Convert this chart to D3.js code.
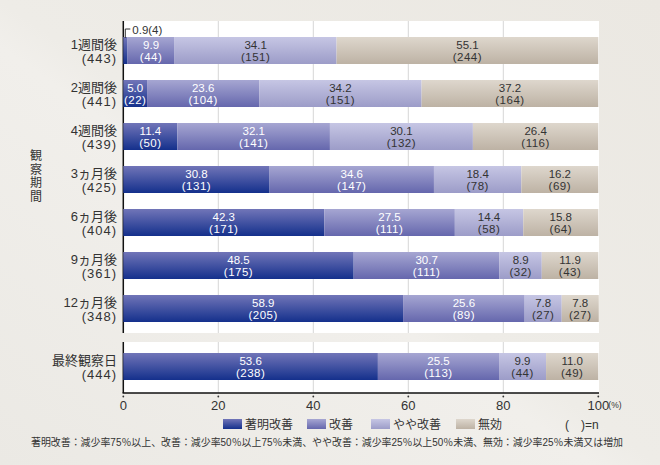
<!DOCTYPE html>
<html><head><meta charset="utf-8">
<script src="https://cdn.jsdelivr.net/npm/d3@7"></script>
<style>
html,body{margin:0;padding:0;background:#eeece7;}
svg{display:block;font-family:"Liberation Sans","Noto Sans CJK JP",sans-serif;}
</style></head>
<body><svg id="c" width="660" height="465"></svg>
<script>
const categories = ["1週間後","2週間後","4週間後","3ヵ月後","6ヵ月後","9ヵ月後","12ヵ月後","最終観察日"];
const totals = [443,441,439,425,404,361,348,444];
const groups = [0,0,0,0,0,0,0,1];
const seriesNames = ["著明改善","改善","やや改善","無効"];
const pctMarked = [0.9,5.0,11.4,30.8,42.3,48.5,58.9,53.6];
const nMarked   = [4,22,50,131,171,175,205,238];
const pctImproved = [9.9,23.6,32.1,34.6,27.5,30.7,25.6,25.5];
const nImproved   = [44,104,141,147,111,111,89,113];
const pctSlight = [34.1,34.2,30.1,18.4,14.4,8.9,7.8,9.9];
const nSlight   = [151,151,132,78,58,32,27,44];
const pctNone = [55.1,37.2,26.4,16.2,15.8,11.9,7.8,11.0];
const nNone   = [244,164,116,69,64,43,27,49];
const xTicks = [0,20,40,60,80,100];
const axisTitle = "観察期間";
const footnote = "著明改善：減少率75％以上、改善：減少率50％以上75％未満、やや改善：減少率25％以上50％未満、無効：減少率25％未満又は増加";

const pcts = [pctMarked,pctImproved,pctSlight,pctNone];
const ns = [nMarked,nImproved,nSlight,nNone];
const grads = [["#7175b8","#14308c"],["#a6a6d2","#6567ad"],["#c6c6e4","#9c9cc8"],["#ded7cd","#bdb2a4"]];
const textCol = ["#fff","#fff","#333","#333"];

const svg = d3.select("#c");
const defs = svg.append("defs");
const bg = defs.append("linearGradient").attr("id","bg").attr("x1","0").attr("y1","1").attr("x2","1").attr("y2","0");
bg.append("stop").attr("offset","0").attr("stop-color","#ebe9e4");
bg.append("stop").attr("offset","0.45").attr("stop-color","#f1efeb");
bg.append("stop").attr("offset","0.5").attr("stop-color","#eeece7");
bg.append("stop").attr("offset","1").attr("stop-color","#ebe8e2");
grads.forEach((g,i)=>{
  const lg = defs.append("linearGradient").attr("id","g"+i).attr("x1",0).attr("y1",0).attr("x2",0).attr("y2",1);
  lg.append("stop").attr("offset","0").attr("stop-color",g[0]);
  lg.append("stop").attr("offset","1").attr("stop-color",g[1]);
});
svg.append("rect").attr("width",660).attr("height",465).attr("fill","url(#bg)");

const x = d3.scaleLinear().domain([0,100]).range([123.3,598.3]);
const step = 43, gap = 15;
const yb = d3.scaleBand().domain(categories).range([29,29+8*step]).paddingInner(16/43).paddingOuter(8/43);
const y = (c,i) => yb(c) + groups[i]*gap;
const bw = yb.bandwidth();

const plotTop = 21, plotBottom = 393, plotRight = 599;
const sepTop = y(categories[6],6) + bw + 11, sepBot = y(categories[7],7) - 11;

const panels = [[plotTop, sepTop],[sepBot, plotBottom]];
panels.forEach(p=>{
  svg.append("rect").attr("x",x(0)).attr("y",p[0]).attr("width",plotRight-x(0)).attr("height",p[1]-p[0]).attr("fill","#fff");
  svg.append("g").selectAll("line").data(xTicks.slice(1,-1)).join("line")
    .attr("x1",d=>x(d)).attr("x2",d=>x(d)).attr("y1",p[0]).attr("y2",p[1])
    .attr("stroke","#d6d6d6").attr("stroke-width",1);
  svg.append("line").attr("x1",x(0)).attr("x2",x(0)).attr("y1",p[0]).attr("y2",p[1]).attr("stroke","#111").attr("stroke-width",1.5);
});
svg.append("line").attr("x1",x(0)-0.75).attr("x2",plotRight).attr("y1",plotBottom).attr("y2",plotBottom).attr("stroke","#111").attr("stroke-width",1.5);

categories.forEach((c,i)=>{
  let cum = 0;
  const yy = y(c,i);
  pcts.forEach((arr,s)=>{
    const v = arr[i];
    const x0 = x(cum), x1 = x(cum+v);
    svg.append("rect").attr("x",x0).attr("y",yy).attr("width",x1-x0).attr("height",bw).attr("fill","url(#g"+s+")");
    const cx = (x0+x1)/2;
    if (v >= 3) {
      const t = svg.append("text").attr("text-anchor","middle").attr("font-size",11.5).attr("fill",textCol[s]);
      t.append("tspan").attr("x",cx).attr("y",yy+bw/2-2).text(v.toFixed(1));
      t.append("tspan").attr("x",cx).attr("y",yy+bw/2+10.5).attr("letter-spacing",0.5).text("(" + ns[s][i] + ")");
    } else {
      svg.append("path").attr("d",`M${x0+2},${yy+1}V${yy-8}H${x0+7}`).attr("fill","none").attr("stroke","#333").attr("stroke-width",1);
      svg.append("text").attr("x",x0+9).attr("y",yy-3.5).attr("font-size",11.5).attr("fill","#333").text(v.toFixed(1)+"(" + ns[s][i] + ")");
    }
    cum += v;
  });
  const lt = svg.append("text").attr("text-anchor","end").attr("font-size",13).attr("fill","#333");
  lt.append("tspan").attr("x",117).attr("y",yy+bw/2-2).text(c);
  lt.append("tspan").attr("x",117).attr("y",yy+bw/2+12).attr("letter-spacing",1).text("(" + totals[i] + ")");
});

const ax = svg.append("g");
ax.selectAll("circle").data(xTicks).join("circle").attr("cx",d=>x(d)).attr("cy",plotBottom+3.5).attr("r",0.9).attr("fill","#333");
ax.selectAll("text").data(xTicks).join("text").attr("x",d=>x(d)).attr("y",plotBottom+17).attr("text-anchor","middle")
  .attr("font-size",13).attr("fill","#333").text(d=>d);
svg.append("text").attr("x",x(100)+10).attr("y",plotBottom+15).attr("font-size",8.5).attr("fill","#333").text("(%)");

svg.append("g").selectAll("text").data(axisTitle.split("")).join("text")
  .attr("x",36).attr("y",(d,i)=>160+i*13.5).attr("text-anchor","middle").attr("font-size",12).attr("fill","#333").text(d=>d);

const legX = [223,307,371,456];
seriesNames.forEach((n,s)=>{
  svg.append("rect").attr("x",legX[s]).attr("y",419).attr("width",19).attr("height",10).attr("fill","url(#g"+s+")");
  svg.append("text").attr("x",legX[s]+22).attr("y",428.5).attr("font-size",12).attr("fill","#333").text(n);
});
svg.append("text").attr("x",565).attr("y",428.5).attr("font-size",12).attr("fill","#333").attr("xml:space","preserve").text("(\u2002\u2002)=n");

svg.append("text").attr("x",31).attr("y",445.5).attr("font-size",10.5).attr("fill","#333")
  .attr("textLength",592).attr("lengthAdjust","spacingAndGlyphs").text(footnote);
</script></body></html>
